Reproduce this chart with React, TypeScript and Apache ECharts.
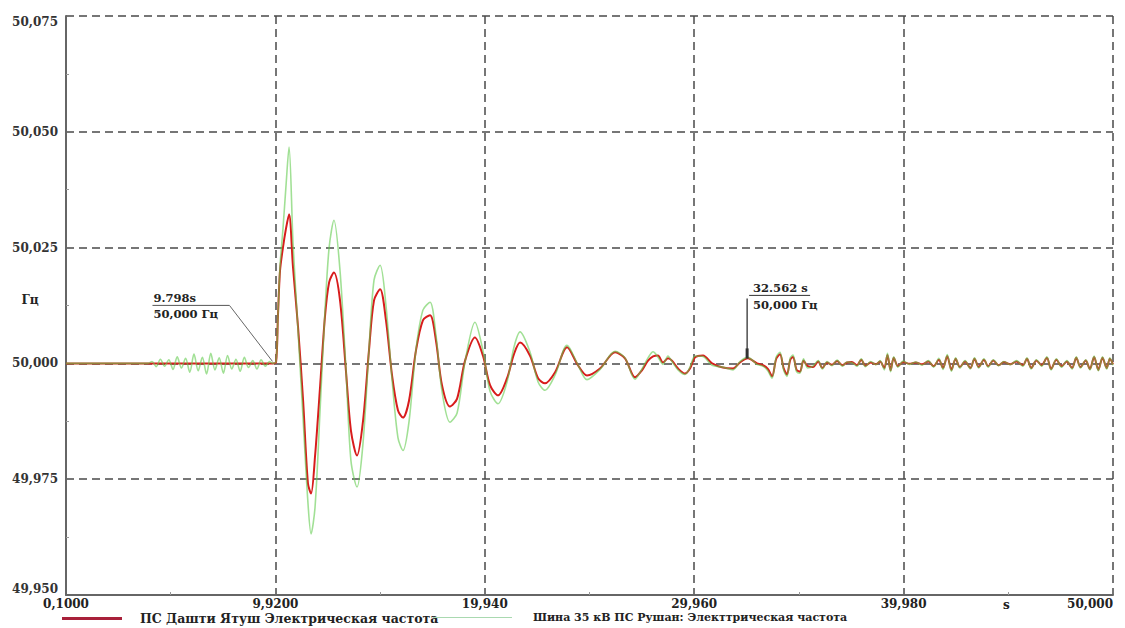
import React, { useEffect, useRef } from "react";
import * as echarts from "echarts";

const xTickLabels = ["0,1000", "9,9200", "19,940", "29,960", "39,980", "50,000"];
const yTickLabels = ["49,950", "49,975", "50,000", "50,025", "50,050", "50,075"];

const redName = "ПС Дашти Ятуш Электрическая частота";
const greenName = "Шина 35 кВ ПС Рушан: Электтрическая частота";

// Segment 1: before the disturbance
const preTimes = [0.1, 4.0, 4.2, 4.4, 4.6, 4.8, 5.0, 5.2, 5.4, 5.6, 5.8, 6.0, 6.2, 6.4, 6.6, 6.8, 7.0, 7.2, 7.4, 7.6, 7.8, 8.0, 8.2, 8.4, 8.6, 8.8, 9.0, 9.2, 9.4, 9.6, 9.8, 9.95];
const preRed = [50, 50, 50, 50, 50, 50, 50, 50, 50, 50, 50, 50, 50, 50, 50, 50, 50, 50, 50, 50, 50, 50, 50, 50, 50, 50, 50, 50, 50, 50, 50, 50];
const preGreen = [50, 50, 50.0004, 49.9993, 50.0009, 49.9994, 50.0008, 49.9987, 50.0014, 49.999, 50.0011, 49.9981, 50.002, 49.9984, 50.0013, 49.9977, 50.0022, 49.9986, 50.0012, 49.9979, 50.0017, 49.9988, 50.0009, 49.9983, 50.0013, 49.9991, 50.0006, 49.9988, 50.0008, 49.9994, 50.0004, 50.0];

// Segment 2: swing
const swingTimes = [10.11, 10.2, 10.3, 10.44, 10.58, 10.73, 10.92, 11.16, 11.4, 11.63, 11.78, 11.97, 12.21, 12.44, 12.64, 12.87, 13.16, 13.44, 13.68, 13.97, 14.26, 14.54, 14.78, 15.07, 15.35, 15.64, 15.92, 16.16, 16.45, 16.78, 17.11, 17.45, 17.73, 18.02, 18.4, 18.74, 19.12, 19.59, 19.97, 20.31, 20.69, 21.12, 21.45, 21.74, 22.21, 22.6, 22.93, 23.41, 23.98, 24.5, 24.93];
const swingRed = [50.0002, 50.01, 50.02, 50.025, 50.029, 50.0322, 50.0207, 50.0078, 49.992, 49.9741, 49.9719, 49.98, 49.995, 50.01, 50.0175, 50.0196, 50.0136, 49.9985, 49.9855, 49.9801, 49.9877, 50.0028, 50.0136, 50.016, 50.0093, 49.9974, 49.9899, 49.9883, 49.992, 50.0028, 50.0093, 50.0104, 50.005, 49.9953, 49.9907, 49.9924, 50.0006, 50.0056, 50.0017, 49.9953, 49.9931, 49.9968, 50.002, 50.0045, 50.0017, 49.9968, 49.9957, 49.9981, 50.0035, 49.9996, 49.9974];
const swingGreen = [50.0004, 50.01, 50.021, 50.029, 50.038, 50.0467, 50.026, 50.007, 49.988, 49.97, 49.9632, 49.969, 49.99, 50.011, 50.025, 50.0309, 50.02, 49.999, 49.979, 49.9733, 49.983, 50.003, 50.018, 50.0212, 50.0125, 49.9965, 49.984, 49.9812, 49.9875, 50.003, 50.0115, 50.0132, 50.0062, 49.994, 49.9873, 49.9893, 50.0004, 50.0089, 50.0028, 49.994, 49.9913, 49.996, 50.0035, 50.0068, 50.0025, 49.996, 49.9942, 49.9975, 50.0039, 49.9997, 49.9965];

// Segment 3: settling
const settleTimes = [25.55, 26.27, 26.74, 27.22, 27.55, 27.84, 28.08, 28.31, 28.55, 28.79, 28.98, 29.27, 29.6, 29.84, 30.08, 30.46, 30.89, 31.41, 31.89, 32.22, 32.6, 33.03, 33.32, 33.55, 33.75, 33.95, 34.13, 34.3, 34.46, 34.62, 34.75, 34.92, 35.08, 35.25, 35.45, 35.7, 35.95, 36.15, 36.37, 36.6, 36.85, 37.1, 37.32];
const settleRed = [49.9989, 50.0024, 50.0011, 49.997, 49.9985, 50.0006, 50.0015, 50.0017, 50.0002, 50.0011, 50.0006, 49.9989, 49.9978, 49.9989, 50.0013, 50.0017, 50.0, 49.9991, 49.9989, 50.0002, 50.0011, 50.0, 49.9996, 49.9988, 49.9972, 50.001, 50.002, 49.999, 49.9976, 50.0008, 50.0014, 49.9986, 49.9982, 50.0006, 49.9994, 49.9992, 50.0004, 49.999, 50.0002, 49.9997, 50.0005, 49.9996, 50.0002];
const settleGreen = [49.9987, 50.0026, 50.0012, 49.9966, 49.9988, 50.0012, 50.0025, 50.0014, 49.9998, 50.0016, 50.0004, 49.9986, 49.9976, 49.9992, 50.0016, 50.0015, 49.9996, 49.9992, 49.9986, 50.0004, 50.0013, 49.9998, 49.9994, 49.9984, 49.9968, 50.0014, 50.0024, 49.9986, 49.9972, 50.0012, 50.0018, 49.9982, 49.9979, 50.001, 49.999, 49.9994, 50.0006, 49.9988, 50.0004, 49.9995, 50.0007, 49.9994, 50.0003];

// Segment 4: steady state
const tailTimes = [37.55, 37.8, 38.0, 38.2, 38.45, 38.7, 38.9, 39.1, 39.25, 39.4, 39.55, 39.75, 40.0, 40.3, 40.6, 40.9, 41.2, 41.45, 41.7, 41.9, 42.1, 42.3, 42.5, 42.7, 42.95, 43.2, 43.4, 43.6, 43.85, 44.05, 44.3, 44.55, 44.8, 45.1, 45.4, 45.7, 45.9, 46.1, 46.35, 46.6, 46.85, 47.05, 47.3, 47.55, 47.8, 48.05, 48.25, 48.45, 48.7, 48.9, 49.1, 49.3, 49.5, 49.7, 49.85, 50.0];
const tailRed = [50.0003, 49.9996, 50.0008, 49.9995, 50.0002, 49.9998, 50.0004, 49.999, 50.0018, 49.9985, 50.0012, 49.9994, 50.0003, 49.9999, 50.0002, 49.9998, 50.0004, 49.9994, 50.0008, 49.999, 50.0016, 49.9986, 50.001, 49.9992, 50.0004, 49.999, 50.001, 49.9992, 50.0008, 49.9994, 50.0006, 49.9996, 50.0003, 49.9998, 50.0004, 49.9996, 50.001, 49.999, 50.0006, 49.9996, 50.0012, 49.9988, 50.0008, 49.9994, 50.0004, 49.999, 50.0012, 49.9992, 50.0006, 49.9988, 50.0014, 49.9986, 50.0012, 49.999, 50.001, 49.9998];
const tailGreen = [50.0002, 49.9994, 50.001, 49.9993, 50.0004, 49.9997, 50.0006, 49.9986, 50.0022, 49.9982, 50.0014, 49.9992, 50.0005, 49.9998, 50.0003, 49.9996, 50.0006, 49.9992, 50.0011, 49.9987, 50.0019, 49.9983, 50.0012, 49.999, 50.0006, 49.9988, 50.0012, 49.999, 50.001, 49.9992, 50.0008, 49.9995, 50.0004, 49.9997, 50.0006, 49.9994, 50.0012, 49.9988, 50.0008, 49.9994, 50.0014, 49.9986, 50.001, 49.9992, 50.0006, 49.9988, 50.0014, 49.999, 50.0008, 49.9986, 50.0016, 49.9984, 50.0014, 49.9988, 50.0012, 49.9996];

// Cursor annotations
const cursor1 = { time: 9.798, hz: 50.0, timeLabel: "9.798s", hzLabel: "50,000 Гц" };
const cursor2 = { time: 32.562, hz: 50.0, timeLabel: "32.562 s", hzLabel: "50,000 Гц" };

const allTimes = [...preTimes, ...swingTimes, ...settleTimes, ...tailTimes];
const allRed = [...preRed, ...swingRed, ...settleRed, ...tailRed];
const allGreen = [...preGreen, ...swingGreen, ...settleGreen, ...tailGreen];

const FONT = "DejaVu Serif";

export default function App() {
  const ref = useRef<HTMLDivElement>(null);
  useEffect(() => {
    if (!ref.current) return;
    const chart = echarts.init(ref.current, null, { renderer: "svg" });
    const redData = allTimes.map((t, i) => [t, allRed[i]]);
    const greenData = allTimes.map((t, i) => [t, allGreen[i]]);
    const labelStyle = { fontFamily: FONT, fontWeight: "bold", fontSize: 12, color: "#222" };
    const gridLine = { show: true, lineStyle: { type: [8, 5], color: "#4a4a4a", width: 1.5 } };

    chart.setOption({
      animation: false,
      backgroundColor: "#ffffff",
      grid: { left: 66, right: 12, top: 16, bottom: 33, containLabel: false, outerBoundsMode: "none" },
      xAxis: [
        {
          type: "value",
          min: 0.1,
          max: 50,
          position: "bottom",
          axisLine: { show: true, lineStyle: { color: "#666", width: 2 } },
          axisTick: { show: false },
          axisLabel: { show: false },
          splitLine: { show: false },
          name: "s",
          nameLocation: "end",
          nameGap: -110,
          nameMoveOverlap: false,
          nameTextStyle: { ...labelStyle, verticalAlign: "top", padding: [4, 0, 0, 0] },
        },
        {
          type: "value",
          min: 0,
          max: 5,
          interval: 1,
          position: "bottom",
          axisLine: { show: false },
          axisTick: { show: false, inside: true },
          minorTick: { show: true, splitNumber: 2, length: 3, lineStyle: { color: "#999" } },
          axisLabel: {
            ...labelStyle,
            margin: 3,
            alignMaxLabel: "right",
            formatter: (v: number) => xTickLabels[Math.round(v)] ?? "",
          },
          splitLine: gridLine,
        },
      ],
      yAxis: {
        type: "value",
        min: 49.95,
        max: 50.075,
        interval: 0.025,
        axisLine: { show: true, lineStyle: { color: "#666", width: 2 } },
        axisTick: { show: false, inside: true },
        minorTick: { show: true, splitNumber: 2, length: 3, lineStyle: { color: "#999" } },
        axisLabel: {
          ...labelStyle,
          color: "#333",
          margin: 8,
          verticalAlignMinLabel: "bottom",
          verticalAlignMaxLabel: "top",
          formatter: (v: number) => yTickLabels[Math.round((v - 49.95) / 0.025)] ?? "",
        },
        splitLine: gridLine,
        name: "Гц",
        nameLocation: "middle",
        nameRotate: 0,
        nameGap: 36,
        nameMoveOverlap: false,
        nameTextStyle: { ...labelStyle, align: "center", verticalAlign: "bottom" },
      },
      legend: [
        {
          data: [{ name: redName, itemStyle: { color: "#a8203a" } }],
          left: 62,
          top: 612,
          padding: 0,
          icon: "rect",
          itemWidth: 60,
          itemHeight: 3,
          selectedMode: false,
          textStyle: { fontFamily: FONT, fontWeight: "bold", fontSize: 12.5, color: "#222", padding: [0, 0, 0, 13] },
        },
        {
          data: [{ name: greenName, itemStyle: { color: "#a9d9b0" } }],
          left: 433,
          top: 612,
          padding: 0,
          icon: "rect",
          itemWidth: 79,
          itemHeight: 1,
          selectedMode: false,
          textStyle: { fontFamily: FONT, fontWeight: "bold", fontSize: 11, color: "#222", padding: [0, 0, 0, 16] },
        },
      ],
      series: [
        {
          type: "line",
          name: redName,
          xAxisIndex: 0,
          yAxisIndex: 0,
          data: redData,
          showSymbol: false,
          smooth: 0.3,
          lineStyle: { color: "#d81c1c", width: 2 },
          itemStyle: { color: "#d81c1c" },
          z: 3,
        },
        {
          type: "line",
          name: greenName,
          xAxisIndex: 0,
          yAxisIndex: 0,
          data: greenData,
          showSymbol: false,
          smooth: 0.3,
          lineStyle: { color: "#62cc4e", width: 1.6, opacity: 0.6 },
          itemStyle: { color: "#7fd07f" },
          z: 4,
        },
      ],
    });

    const p1 = chart.convertToPixel({ seriesIndex: 0 }, [cursor1.time, cursor1.hz]) as number[];
    const p2 = chart.convertToPixel({ seriesIndex: 0 }, [cursor2.time, cursor2.hz]) as number[];
    const tStyle = { fontFamily: FONT, fontWeight: "bold", fontSize: 11.5, fill: "#222" };
    chart.setOption({
      graphic: [
        { type: "line", z: 10, shape: { x1: p1[0] - 117, y1: p1[1] - 58, x2: p1[0] - 40, y2: p1[1] - 58 }, style: { stroke: "#555", lineWidth: 1 } },
        { type: "line", z: 10, shape: { x1: p1[0] - 40, y1: p1[1] - 58, x2: p1[0] + 3, y2: p1[1] - 2 }, style: { stroke: "#666", lineWidth: 1 } },
        { type: "text", z: 10, x: p1[0] - 116, y: p1[1] - 59, style: { ...tStyle, text: cursor1.timeLabel, verticalAlign: "bottom" } },
        { type: "text", z: 10, x: p1[0] - 116, y: p1[1] - 55, style: { ...tStyle, text: cursor1.hzLabel, verticalAlign: "top" } },
        { type: "line", z: 10, shape: { x1: p2[0] + 2, y1: p2[1] - 68, x2: p2[0] + 63, y2: p2[1] - 68 }, style: { stroke: "#333", lineWidth: 1 } },
        { type: "line", z: 10, shape: { x1: p2[0], y1: p2[1] - 65, x2: p2[0], y2: p2[1] - 5 }, style: { stroke: "#222", lineWidth: 1.2 } },
        { type: "rect", z: 10, shape: { x: p2[0] - 1.5, y: p2[1] - 15, width: 3, height: 10 }, style: { fill: "#333" } },
        { type: "text", z: 10, x: p2[0] + 6, y: p2[1] - 69, style: { ...tStyle, text: cursor2.timeLabel, verticalAlign: "bottom" } },
        { type: "text", z: 10, x: p2[0] + 6, y: p2[1] - 58, style: { ...tStyle, text: cursor2.hzLabel, verticalAlign: "middle" } },
      ],
    });

    return () => chart.dispose();
  }, []);

  return <div ref={ref} style={{ position: "fixed", left: 0, top: 0, width: 1125, height: 628 }} />;
}
